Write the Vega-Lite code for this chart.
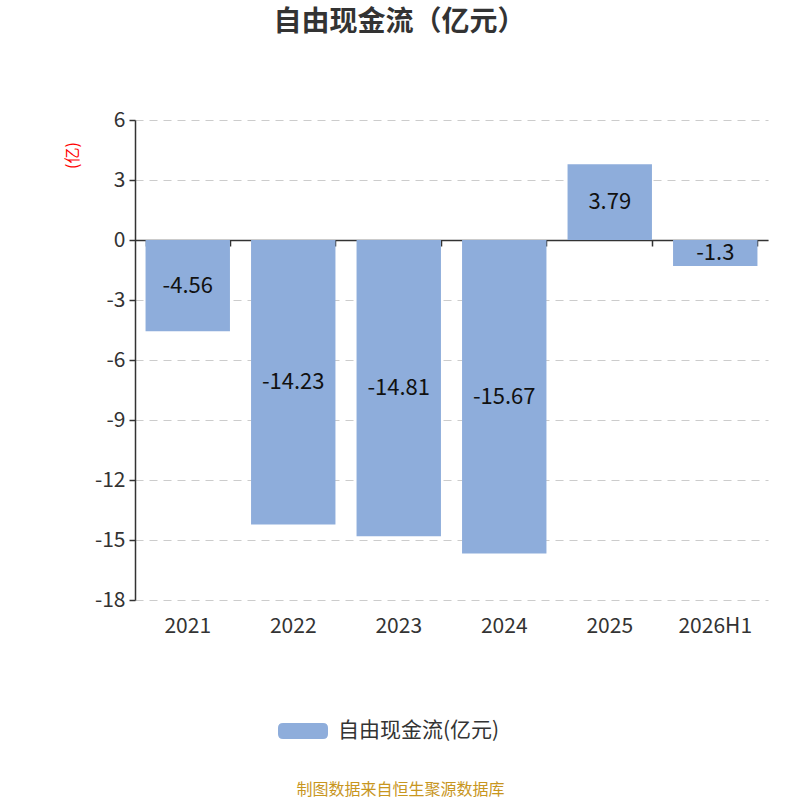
{
  "$schema": "https://vega.github.io/schema/vega-lite/v6.json",
  "autosize": "none",
  "width": 633,
  "height": 480,
  "padding": {"left": 135, "top": 120, "right": 32, "bottom": 200},
  "background": "white",
  "config": {
    "view": {"stroke": null},
    "font": "Noto Sans CJK SC"
  },
  "title": {
    "text": "自由现金流（亿元）",
    "fontSize": 28,
    "fontWeight": "bold",
    "color": "#333333",
    "anchor": "middle",
    "dx": -52,
    "offset": 72
  },
  "data": {
    "values": [
      {"period": "2021", "value": -4.56},
      {"period": "2022", "value": -14.23},
      {"period": "2023", "value": -14.81},
      {"period": "2024", "value": -15.67},
      {"period": "2025", "value": 3.79},
      {"period": "2026H1", "value": -1.3}
    ]
  },
  "encoding": {
    "x": {
      "field": "period",
      "type": "nominal",
      "sort": null,
      "scale": {"paddingInner": 0.2, "paddingOuter": 0.1}
    }
  },
  "layer": [
    {
      "mark": {"type": "bar", "color": "#8eaddb"},
      "encoding": {
        "x": {
          "field": "period",
          "type": "nominal",
          "sort": null,
          "axis": {
            "orient": "bottom",
            "domain": false,
            "ticks": false,
            "grid": false,
            "labelAngle": 0,
            "labelFontSize": 21,
            "labelColor": "#333333",
            "labelPadding": 15,
            "title": "制图数据来自恒生聚源数据库",
            "titleColor": "#c8961e",
            "titleFontSize": 16,
            "titleFontWeight": "normal",
            "titleX": 265,
            "titleY": 181,
            "titleAlign": "center"
          }
        },
        "y": {
          "field": "value",
          "type": "quantitative",
          "scale": {"domain": [-18, 6], "nice": false, "zero": false},
          "axis": {
            "values": [-18, -15, -12, -9, -6, -3, 0, 3, 6],
            "labelExpr": "datum.value + ''",
            "title": "(亿)",
            "titleColor": "red",
            "titleFontSize": 16,
            "titleFontWeight": "normal",
            "titleX": -55,
            "titleY": 35,
            "titleAlign": "center",
            "labelFontSize": 21,
            "labelColor": "#333333",
            "labelPadding": 4,
            "domainColor": "#333333",
            "domainWidth": 1.5,
            "tickColor": "#333333",
            "tickSize": 6,
            "tickWidth": 1.5,
            "grid": true,
            "gridColor": "#cccccc",
            "gridDash": [8, 6],
            "gridWidth": 1.2
          }
        },
        "color": {
          "datum": "自由现金流(亿元)",
          "type": "nominal",
          "scale": {"range": ["#8eaddb"]},
          "legend": {
            "title": null,
            "orient": "none",
            "legendX": 143,
            "legendY": 586,
            "padding": 0,
            "symbolType": "M-0.8,-0.32 L0.8,-0.32 Q1,-0.32 1,-0.12 L1,0.12 Q1,0.32 0.8,0.32 L-0.8,0.32 Q-1,0.32 -1,0.12 L-1,-0.12 Q-1,-0.32 -0.8,-0.32 Z",
            "symbolSize": 2500,
            "symbolStrokeWidth": 0,
            "symbolOpacity": 1,
            "labelFontSize": 21,
            "labelColor": "#333333",
            "labelOffset": 10,
            "labelLimit": 400
          }
        }
      }
    },
    {
      "transform": [{"calculate": "datum.value / 2", "as": "mid"}],
      "mark": {"type": "text", "fontSize": 22, "color": "#111111", "baseline": "middle"},
      "encoding": {
        "x": {
          "field": "period",
          "type": "nominal",
          "sort": null,
          "axis": {
            "orient": "bottom",
            "offset": -360,
            "labels": false,
            "title": null,
            "grid": false,
            "domain": true,
            "domainColor": "#333333",
            "domainWidth": 1.5,
            "ticks": true,
            "tickBand": "extent",
            "tickColor": "#333333",
            "tickWidth": 1.5,
            "tickSize": 6
          }
        },
        "y": {"field": "mid", "type": "quantitative"},
        "text": {"field": "value", "type": "nominal"}
      }
    }
  ],
  "resolve": {"axis": {"x": "independent"}}
}
